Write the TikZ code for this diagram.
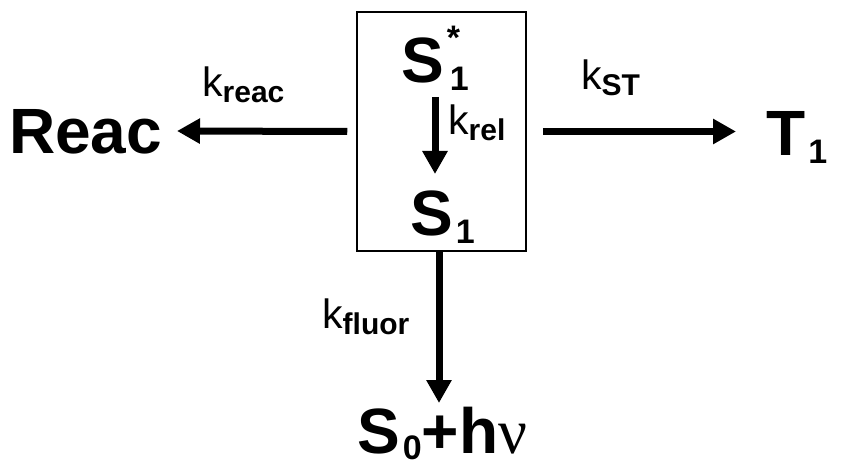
\documentclass[tikz,border=0pt]{standalone}
\usepackage{fontspec}
\setmainfont{Liberation Sans}
\newfontfamily\nufont{Liberation Serif}
\usetikzlibrary{arrows.meta}
\newcommand\msub[2][8pt]{\kern3pt\raisebox{-#1}{\fontsize{34}{34}\selectfont #2}}
\newcommand\ksub[1]{\raisebox{-6pt}{\fontsize{30}{30}\selectfont\bfseries #1}}
\tikzset{
  big/.style={font=\fontsize{64}{64}\selectfont\bfseries, inner sep=0pt, anchor=base west},
  klab/.style={font=\fontsize{41}{41}\selectfont, inner sep=0pt, anchor=base west},
  arr/.style={line width=7pt, -{Triangle[length=23pt,width=24pt]}},
  boxst/.style={draw, line width=1.5pt, inner sep=0pt}
}
\begin{document}
\begin{tikzpicture}[x=1pt,y=-1pt]
\useasboundingbox (0,0) rectangle (847,468);
% box
\node[boxst, minimum width=169pt, minimum height=239pt] (box) at (441.5,131.5) {};
% texts
\node[big] (reac) at (9,154) {Reac};
\node[big] (t1) at (766,156) {T\msub{1}};
\node[big] (s1star) at (401,83) {S\kern3pt\rlap{\raisebox{33pt}{\fontsize{34}{34}\selectfont *}}\msub{1}};
\node[big] (s1) at (410,236) {S\msub{1}};
\node[big] (s0) at (357,453) {S\msub[6pt]{0}+h{\nufont\mdseries ν}};
\node[klab] (kreac) at (202,97) {k\ksub{reac}};
\node[klab] (kst) at (581,90) {k\ksub{ST}};
\node[klab] (krel) at (448,135) {k\ksub{rel}};
\node[klab] (kfluor) at (322,328) {k\ksub{fluor}};
% arrow end points
\coordinate (reacend) at (177,131);
\coordinate (stend) at (736,131.5);
\coordinate (relstart) at (435,97);
\coordinate (relend) at (435,174);
\coordinate (fluorend) at (439,403);
\draw[arr] ([xshift=-9pt]box.west) -- (reacend);
\draw[arr] ([xshift=16pt]box.east) -- (stend);
\draw[arr] (relstart) -- (relend);
\draw[arr] (box.south -| fluorend) -- (fluorend);
\end{tikzpicture}
\end{document}
